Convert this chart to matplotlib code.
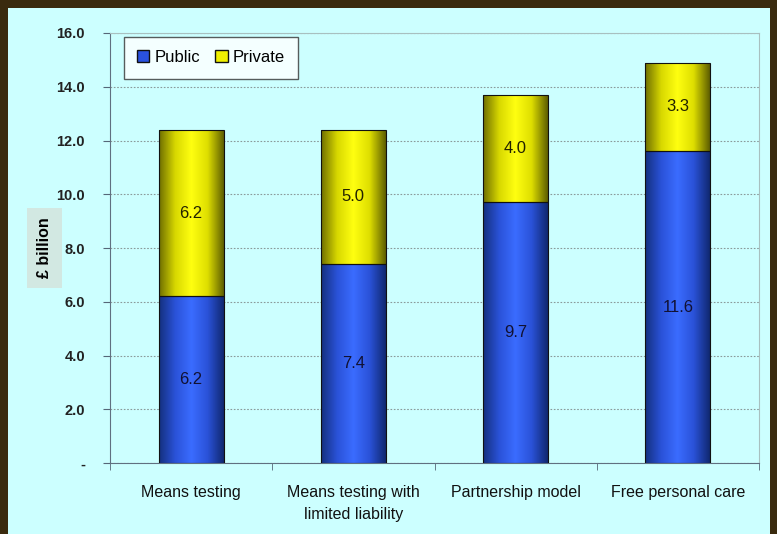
import numpy as np
import matplotlib.pyplot as plt
from matplotlib.colors import LinearSegmentedColormap
from matplotlib.patches import Rectangle, Patch

plt.rcParams['font.family'] = ['Liberation Sans', 'DejaVu Sans']

categories = ['Means testing', 'Means testing with\nlimited liability',
              'Partnership model', 'Free personal care']
public = [6.2, 7.4, 9.7, 11.6]
private = [6.2, 5.0, 4.0, 3.3]
yticks = [0, 2, 4, 6, 8, 10, 12, 14, 16]
ytick_labels = ['-', '2.0', '4.0', '6.0', '8.0', '10.0', '12.0', '14.0', '16.0']

bg = '#ccffff'
blue_cmap = LinearSegmentedColormap.from_list(
    'blue', ['#14307e', '#2a52d8', '#3a6cff', '#2a52d8', '#102870'])
yellow_cmap = LinearSegmentedColormap.from_list(
    'yellow', ['#6e6e00', '#d8d800', '#ffff10', '#dede00', '#5e5e00'])


def shade_bars(ax, bars, cmap):
    grad = np.linspace(0, 1, 256).reshape(1, -1)
    for b in bars:
        x, y = b.get_x(), b.get_y()
        w, h = b.get_width(), b.get_height()
        im = ax.imshow(grad, cmap=cmap, aspect='auto', zorder=2,
                       extent=(x, x + w, y, y + h), interpolation='bilinear')
        im.set_clip_path(b)
        b.set_facecolor('none')
        b.set_zorder(3)


fig = plt.figure(figsize=(7.77, 5.34), dpi=100)
fig.patch.set_facecolor('#3a2a0e')
fig.patches.append(Rectangle((8 / 777, 0), 762 / 777, 526 / 534,
                             transform=fig.transFigure, facecolor=bg,
                             edgecolor='none', zorder=-10))

ax = fig.add_axes([110 / 777, 71 / 534, 649 / 777, 430 / 534])
ax.set_facecolor(bg)

x = np.arange(len(categories))
bars_pub = ax.bar(x, public, width=0.4, edgecolor='#111111', linewidth=0.8)
bars_priv = ax.bar(x, private, width=0.4, bottom=public,
                   edgecolor='#111111', linewidth=0.8)
shade_bars(ax, bars_pub, blue_cmap)
shade_bars(ax, bars_priv, yellow_cmap)

for i in range(len(categories)):
    ax.text(x[i], public[i] / 2, f'{public[i]:.1f}', ha='center', va='center',
            fontsize=12, color='#111133', zorder=4)
    ax.text(x[i], public[i] + private[i] / 2, f'{private[i]:.1f}',
            ha='center', va='center', fontsize=12, color='#222200', zorder=4)

ax.set_xlim(-0.5, len(categories) - 0.5)
ax.set_ylim(0, 16)
ax.set_yticks(yticks)
ax.set_yticklabels(ytick_labels, fontsize=10.5, fontweight='bold',
                   color='#222222')
ax.set_xticks(np.arange(len(categories) + 1) - 0.5, minor=True)
ax.set_xticks(x)
ax.set_xticklabels(categories, fontsize=11.5, linespacing=1.55,
                   color='#111111')
ax.tick_params(axis='x', which='major', length=0, pad=16)
ax.tick_params(axis='x', which='minor', length=5, color='#556677')
ax.tick_params(axis='y', length=5, color='#556677', pad=13)
ax.yaxis.grid(True, linestyle=(0, (1.5, 1.5)), color='#8a9a9a', linewidth=0.8)
ax.set_axisbelow(True)

for side in ['top', 'right']:
    ax.spines[side].set_color('#a8c0c0')
for side in ['left', 'bottom']:
    ax.spines[side].set_color('#607080')

ax.set_ylabel('£ billion', fontsize=11.5, fontweight='bold', labelpad=3,
              bbox=dict(facecolor='#d2e8e2', edgecolor='none', pad=7))

handles = [Patch(facecolor='#2a52e0', edgecolor='#111111'),
           Patch(facecolor='#f0f000', edgecolor='#111111')]
leg = ax.legend(handles, ['Public', 'Private'], loc='upper left', ncol=2,
                bbox_to_anchor=(0.021, 0.991), fontsize=12, frameon=True,
                fancybox=False, edgecolor='#333333', handlelength=0.75,
                handleheight=0.75, handletextpad=0.3, columnspacing=0.9,
                borderpad=0.8, borderaxespad=0)
leg.get_frame().set_facecolor('white')
leg.get_frame().set_linewidth(1.0)

fig.savefig('out.png', dpi=100, facecolor=fig.get_facecolor())
